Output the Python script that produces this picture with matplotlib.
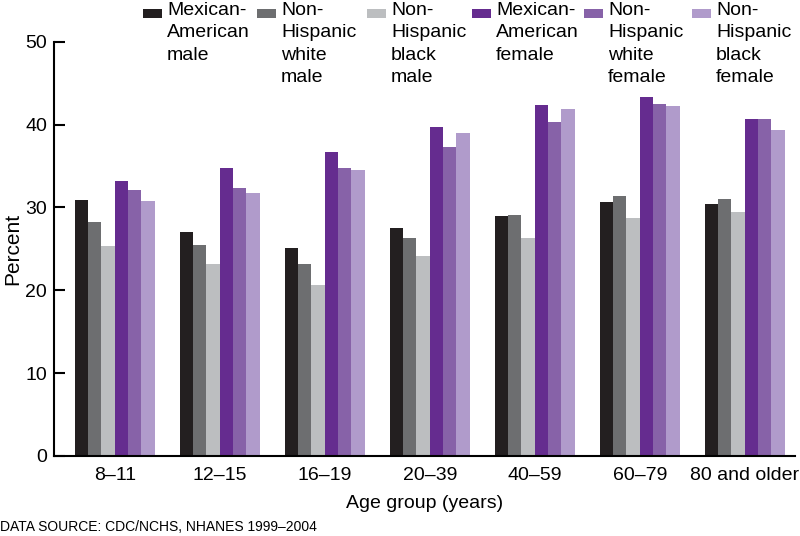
import matplotlib
matplotlib.use("Agg")
import matplotlib.pyplot as plt
from matplotlib.patches import Rectangle
import numpy as np

plt.rcParams['font.family'] = ['Liberation Sans', 'DejaVu Sans']

categories = ["8–11", "12–15", "16–19", "20–39", "40–59", "60–79", "80 and older"]
series_labels = ["Mexican-\nAmerican\nmale", "Non-\nHispanic\nwhite\nmale", "Non-\nHispanic\nblack\nmale",
                 "Mexican-\nAmerican\nfemale", "Non-\nHispanic\nwhite\nfemale", "Non-\nHispanic\nblack\nfemale"]
mex_male = [30.9, 27.0, 25.1, 27.5, 29.0, 30.6, 30.4]
white_male = [28.2, 25.5, 23.2, 26.3, 29.1, 31.4, 31.0]
black_male = [25.4, 23.2, 20.6, 24.1, 26.3, 28.7, 29.4]
mex_female = [33.2, 34.7, 36.7, 39.7, 42.4, 43.3, 40.7]
white_female = [32.1, 32.3, 34.7, 37.3, 40.3, 42.5, 40.7]
black_female = [30.8, 31.8, 34.5, 39.0, 41.9, 42.3, 39.4]
series = [mex_male, white_male, black_male, mex_female, white_female, black_female]
colors = ["#231f20", "#6d6e70", "#bcbec0", "#652c8f", "#8762a8", "#b09bcb"]

fig = plt.figure(figsize=(8, 5.36), dpi=100)
ax = fig.add_axes([54/800, 1-456/536, 741/800, (456-41.7)/536])

x = np.arange(len(categories))
w = 0.127
for i, (vals, c) in enumerate(zip(series, colors)):
    ax.bar(x + (i - 2.5) * w, vals, width=w, color=c, edgecolor='none')

ax.set_xlim(-0.578, 6.479)
ax.set_ylim(0, 50)
ax.set_yticks([0, 10, 20, 30, 40, 50])
ax.set_xticks(x)
ax.set_xticklabels(categories)
ax.tick_params(axis='y', direction='in', length=8, width=1.5, pad=5, labelsize=14)
ax.tick_params(axis='x', length=0, pad=8, labelsize=14)
for s in ['top', 'right']:
    ax.spines[s].set_visible(False)
for s in ['left', 'bottom']:
    ax.spines[s].set_linewidth(1.5)
ax.set_ylabel("Percent", fontsize=15)
ax.yaxis.set_label_coords(-0.043, 0.5)
ax.set_xlabel("Age group (years)", fontsize=14, labelpad=8)

# legend
leg_x = [143, 257, 367, 472, 584, 692]
for lx, lab, c in zip(leg_x, series_labels, colors):
    fig.add_artist(Rectangle((lx/800, 1-18/536), 19/800, 9/536, transform=fig.transFigure,
                             color=c, lw=0))
    fig.text((lx+24)/800, 1-2/536, lab, ha='left', va='top', fontsize=14, linespacing=1.42)

fig.text(0, 1-527/536, "DATA SOURCE: CDC/NCHS, NHANES 1999–2004", fontsize=10, va='center', ha='left')

fig.savefig("out.png", dpi=100)
